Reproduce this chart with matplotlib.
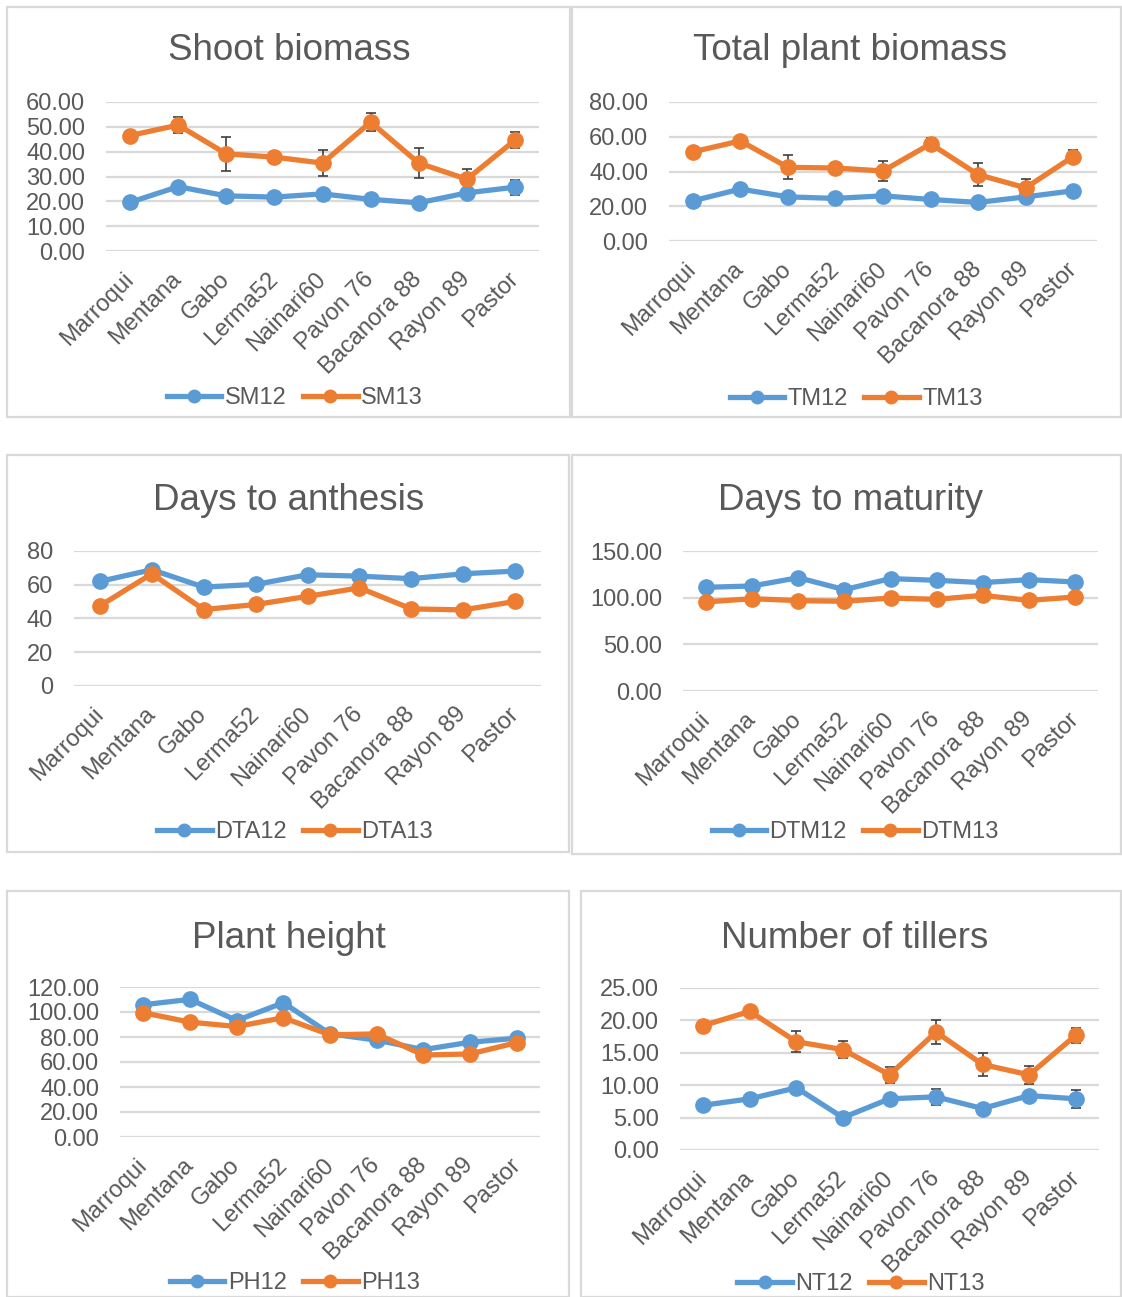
import matplotlib
matplotlib.use("Agg")
import matplotlib.pyplot as plt
from matplotlib.patches import Rectangle
from matplotlib.lines import Line2D
from matplotlib.ticker import FormatStrFormatter

plt.rcParams['font.family'] = ['Liberation Sans', 'DejaVu Sans']

categories = ['Marroqui', 'Mentana', 'Gabo', 'Lerma52', 'Nainari60',
              'Pavon 76', 'Bacanora 88', 'Rayon 89', 'Pastor']

SM12 = [19.6, 25.9, 22.2, 21.7, 23.0, 20.8, 19.4, 23.4, 25.7]
SM12_err = [0.8, 1.0, 1.0, 1.0, 1.0, 2.2, 1.0, 1.0, 3.0]
SM13 = [46.5, 50.7, 39.1, 37.8, 35.4, 51.9, 35.4, 28.9, 44.6]
SM13_err = [1.0, 3.3, 6.7, 2.1, 5.2, 3.5, 6.2, 4.3, 3.3]

TM12 = [23.1, 29.9, 25.4, 24.5, 26.0, 23.9, 22.2, 25.4, 28.9]
TM12_err = [1.0, 1.0, 1.0, 1.0, 1.0, 1.0, 1.0, 1.0, 1.5]
TM13 = [51.3, 57.6, 42.4, 42.0, 40.3, 55.9, 38.2, 30.6, 48.6]
TM13_err = [1.5, 2.5, 6.9, 2.0, 5.7, 3.5, 6.5, 4.8, 3.5]

DTA12 = [62.0, 68.9, 58.6, 60.2, 65.9, 65.1, 63.6, 66.5, 68.1]
DTA13 = [47.5, 66.5, 45.3, 48.3, 53.1, 58.2, 45.7, 45.1, 50.1]

DTM12 = [111.1, 112.5, 121.4, 108.6, 120.4, 118.6, 116.1, 119.3, 116.8]
DTM13 = [95.4, 98.9, 96.8, 96.1, 99.6, 98.2, 102.5, 97.1, 100.7]

PH12 = [105.8, 110.1, 93.2, 107.4, 82.5, 77.5, 69.9, 75.8, 79.0]
PH13 = [99.4, 91.9, 88.4, 95.4, 81.7, 82.5, 65.6, 66.4, 75.5]

NT12 = [6.9, 7.9, 9.6, 5.0, 7.9, 8.2, 6.4, 8.4, 7.9]
NT12_err = [0.3, 0.3, 0.3, 0.3, 0.3, 1.2, 0.3, 0.3, 1.35]
NT13 = [19.2, 21.4, 16.7, 15.5, 11.6, 18.2, 13.2, 11.6, 17.7]
NT13_err = [0.4, 0.6, 1.6, 1.3, 1.2, 1.9, 1.8, 1.35, 1.2]

W, H = 1122, 1297
fig = plt.figure(figsize=(W / 100, H / 100), dpi=100)
fig.patch.set_facecolor('white')

BLUE = '#5B9BD5'
ORANGE = '#ED7D31'
GRID = '#D9D9D9'
TXT = '#595959'
ERR = '#404040'

# panel borders (x0, y0, x1, y1) in pixels
borders = [(7, 7, 570, 417), (572, 7, 1121, 417),
           (7, 455, 569, 852), (572, 455, 1121, 854),
           (7, 891, 569, 1297), (581, 891, 1121, 1297)]
for (x0, y0, x1, y1) in borders:
    fig.patches.append(Rectangle((x0 / W, 1 - y1 / H), (x1 - x0) / W, (y1 - y0) / H,
                                 transform=fig.transFigure, fill=False,
                                 edgecolor=GRID, linewidth=1.6, zorder=0))

panels = [
    dict(title='Shoot biomass', s1=SM12, s2=SM13, e1=SM12_err, e2=SM13_err,
         n1='SM12', n2='SM13', ymax=60, step=10, fmt='%.2f',
         box=(106, 539, 102, 251), tpos=(289, 51), lpos=(295, 398)),
    dict(title='Total plant biomass', s1=TM12, s2=TM13, e1=TM12_err, e2=TM13_err,
         n1='TM12', n2='TM13', ymax=80, step=20, fmt='%.2f',
         box=(669, 1097, 102, 241), tpos=(850, 51), lpos=(856, 399)),
    dict(title='Days to anthesis', s1=DTA12, s2=DTA13, e1=None, e2=None,
         n1='DTA12', n2='DTA13', ymax=80, step=20, fmt='%d',
         box=(74, 541, 551, 686), tpos=(289, 500), lpos=(295, 832)),
    dict(title='Days to maturity', s1=DTM12, s2=DTM13, e1=None, e2=None,
         n1='DTM12', n2='DTM13', ymax=150, step=50, fmt='%.2f',
         box=(683, 1098, 551, 691), tpos=(850, 500), lpos=(855, 832)),
    dict(title='Plant height', s1=PH12, s2=PH13, e1=None, e2=None,
         n1='PH12', n2='PH13', ymax=120, step=20, fmt='%.2f',
         box=(120, 540, 987, 1137), tpos=(289, 938), lpos=(295, 1283)),
    dict(title='Number of tillers', s1=NT12, s2=NT13, e1=NT12_err, e2=NT13_err,
         n1='NT12', n2='NT13', ymax=25, step=5, fmt='%.2f',
         box=(680, 1099, 988, 1150), tpos=(855, 938), lpos=(861, 1284)),
]

LW = 3.8
MS = 11
FS = 17

for p in panels:
    l, r, t, b = p['box']
    ax = fig.add_axes([l / W, 1 - b / H, (r - l) / W, (b - t) / H])
    ax.set_facecolor('none')
    x = list(range(len(categories)))
    for s, e, c in ((p['s1'], p['e1'], BLUE), (p['s2'], p['e2'], ORANGE)):
        if e is not None:
            ax.errorbar(x, s, yerr=e, fmt='none', ecolor=ERR, elinewidth=1.2,
                        capsize=3.5, capthick=1.2, zorder=2, clip_on=False)
        ax.plot(x, s, color=c, lw=LW, marker='o', ms=MS, zorder=3,
                clip_on=False, solid_capstyle='round')
    ax.set_xlim(-0.5, len(categories) - 0.5)
    ax.set_ylim(0, p['ymax'])
    yt = list(range(0, p['ymax'] + 1, p['step']))
    ax.set_yticks(yt)
    ax.yaxis.set_major_formatter(FormatStrFormatter(p['fmt']))
    ax.set_xticks(x)
    ax.set_xticklabels(categories, rotation=45, ha='right', va='center',
                       rotation_mode='anchor')
    ax.tick_params(axis='both', length=0, labelsize=FS, labelcolor=TXT)
    ax.tick_params(axis='y', pad=15)
    ax.tick_params(axis='x', pad=18)
    ax.grid(axis='y', color=GRID, lw=1.6, zorder=0)
    ax.set_axisbelow(True)
    for sp in ax.spines.values():
        sp.set_visible(False)
    tx, ty = p['tpos']
    fig.text(tx / W, 1 - ty / H, p['title'], ha='center', va='center',
             fontsize=26.5, color=TXT)
    handles = [Line2D([], [], color=BLUE, lw=LW, marker='o', ms=9),
               Line2D([], [], color=ORANGE, lw=LW, marker='o', ms=9)]
    lx, ly = p['lpos']
    leg = ax.legend(handles, [p['n1'], p['n2']], loc='center',
                    bbox_to_anchor=(lx / W, 1 - ly / H),
                    bbox_transform=fig.transFigure, frameon=False, ncol=2,
                    fontsize=FS, handlelength=2.3, handletextpad=0.15,
                    columnspacing=0.7, borderpad=0)
    for tt in leg.get_texts():
        tt.set_color(TXT)

fig.savefig('out.png', dpi=100, facecolor='white')
